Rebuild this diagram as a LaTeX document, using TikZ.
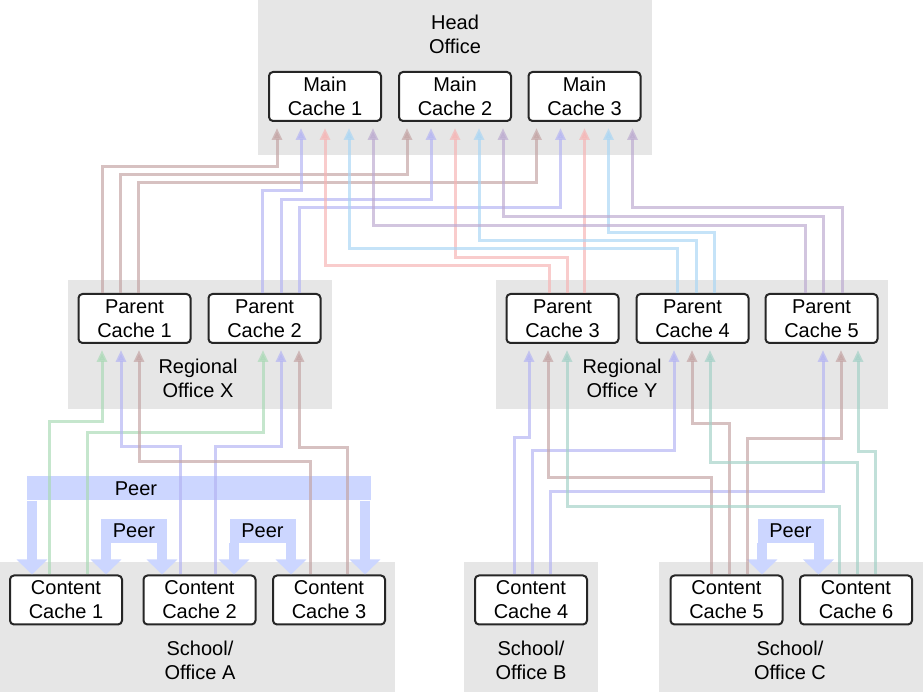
\documentclass[tikz,border=0pt]{standalone}
\usepackage{fontspec}
\setmainfont{Liberation Sans}
\usepackage{tikz}
\usetikzlibrary{backgrounds, fit}
\usetikzlibrary{positioning}
\usetikzlibrary{arrows.meta}
\definecolor{officegray}{RGB}{230,230,230}
\definecolor{peerblue}{RGB}{204,214,255}
\definecolor{linkbrown}{RGB}{196,164,164}
\definecolor{linkblue}{RGB}{180,180,243}
\definecolor{linkred}{RGB}{246,180,180}
\definecolor{linksky}{RGB}{170,214,244}
\definecolor{linkpurple}{RGB}{188,170,208}
\definecolor{linkgreen}{RGB}{170,218,182}
\definecolor{linkteal}{RGB}{163,209,199}

\begin{document}
\begin{tikzpicture}[
            x = 0.5pt, y = -0.5pt, % pixel grid
            > = {Triangle[length=6pt,width=5pt]}, % arrow head style
            shorten > = 3pt, % don't touch arrow head to node
            font = \fontsize{10}{12}\selectfont
            ]

        \tikzstyle{cache}=[
            draw = black!85,
            line width = 1pt,
            rounded corners = 2pt,
            fill = white,
            align = center,
            minimum width = 56pt,
            minimum height = 24.5pt,
            inner sep = 0pt
        ]
        \tikzstyle{office}=[fill = officegray, inner sep = 0pt]
        \tikzstyle{sitename}=[align = center]
        \tikzstyle{link}=[->, line width = 1.5pt, opacity = 0.68]
        \tikzstyle{peer}=[draw = peerblue, line width = 5pt, shorten > = 0pt,
            -{Triangle[length=7.5pt,width=15pt]}]
        \tikzstyle{peerbar}=[fill = peerblue, inner sep = 0pt, minimum height = 12pt]

        \useasboundingbox (0,0) rectangle (923,694);

        % offices
        \node[office, fit={(258,0) (652,155)}] (HO) {};
        \node[office, fit={(68,280) (332,409)}] (RX) {};
        \node[office, fit={(496,280) (888,409)}] (RY) {};
        \node[office, fit={(0,562) (395,692)}] (SA) {};
        \node[office, fit={(464,562) (598,692)}] (SB) {};
        \node[office, fit={(659,562) (923,692)}] (SC) {};

        \node[sitename] (HOtext) at (455,34) {Head\\Office};
        \node[sitename] (RXtext) at (198,378) {Regional\\Office X};
        \node[sitename] (RYtext) at (622,378) {Regional\\Office Y};
        \node[sitename] (SAtext) at (200,660) {School/\\Office A};
        \node[sitename] (SBtext) at (531,660) {School/\\Office B};
        \node[sitename] (SCtext) at (790,660) {School/\\Office C};

        % main level
        \node[cache] (M1) at (325,96.5) {Main\\Cache 1};
        \node[cache] (M2) at (455,96.5) {Main\\Cache 2};
        \node[cache] (M3) at (584.5,96.5) {Main\\Cache 3};

        % parent level
        \node[cache] (P1) at (134.5,318.5) {Parent\\Cache 1};
        \node[cache] (P2) at (264.5,318.5) {Parent\\Cache 2};
        \node[cache] (P3) at (562.5,318.5) {Parent\\Cache 3};
        \node[cache] (P4) at (692.5,318.5) {Parent\\Cache 4};
        \node[cache] (P5) at (821.5,318.5) {Parent\\Cache 5};

        % content level
        \node[cache] (C1) at (66,600) {Content\\Cache 1};
        \node[cache] (C2) at (199.5,600) {Content\\Cache 2};
        \node[cache] (C3) at (329,600) {Content\\Cache 3};
        \node[cache] (C4) at (531,600) {Content\\Cache 4};
        \node[cache] (C5) at (726.5,600) {Content\\Cache 5};
        \node[cache] (C6) at (856,600) {Content\\Cache 6};

        % peers
        \node[peerbar, minimum width=172pt] (peerAC) at (199,488.5) {};
        \node (peerACtext) at (136,488.5) {Peer};
        \draw[peer] (32,0 |- peerAC.south) -- (32,0 |- C1.north);
        \draw[peer] (365,0 |- peerAC.south) -- (365,0 |- C3.north);

        \node[peerbar, minimum width=33pt] (peerAB) at (134,531) {Peer};
        \draw[peer] (106,0 |- peerAB.south) -- (106,0 |- C1.north);
        \draw[peer] (162,0 |- peerAB.south) -- (162,0 |- C2.north);

        \node[peerbar, minimum width=33pt] (peerBC) at (262.5,531) {Peer};
        \draw[peer] (234,0 |- peerBC.south) -- (234,0 |- C2.north);
        \draw[peer] (291,0 |- peerBC.south) -- (291,0 |- C3.north);

        \node[peerbar, minimum width=33pt] (peerEF) at (790.5,531) {Peer};
        \draw[peer] (762,0 |- peerEF.south) -- (762,0 |- C5.north);
        \draw[peer] (818.5,0 |- peerEF.south) -- (818.5,0 |- C6.north);

        % parent to main
        \draw[link, linkbrown] (102,0 |- P1.north) |- (277,167) -- (277,0 |- M1.south);
        \draw[link, linkbrown] (120,0 |- P1.north) |- (407,175) -- (407,0 |- M2.south);
        \draw[link, linkbrown] (138,0 |- P1.north) |- (536.5,183) -- (536.5,0 |- M3.south);

        \draw[link, linkblue] (262,0 |- P2.north) |- (301,191) -- (301,0 |- M1.south);
        \draw[link, linkblue] (281,0 |- P2.north) |- (431,200) -- (431,0 |- M2.south);
        \draw[link, linkblue] (299,0 |- P2.north) |- (560.5,208) -- (560.5,0 |- M3.south);

        \draw[link, linkred] (549,0 |- P3.north) |- (325,266) -- (325,0 |- M1.south);
        \draw[link, linkred] (567,0 |- P3.north) |- (455,258) -- (455,0 |- M2.south);
        \draw[link, linkred] (584.5,0 |- P3.north) -- (584.5,0 |- M3.south);

        \draw[link, linksky] (677,0 |- P4.north) |- (349,249) -- (349,0 |- M1.south);
        \draw[link, linksky] (696,0 |- P4.north) |- (479,241) -- (479,0 |- M2.south);
        \draw[link, linksky] (714,0 |- P4.north) |- (608.5,233) -- (608.5,0 |- M3.south);

        \draw[link, linkpurple] (805,0 |- P5.north) |- (373,226) -- (373,0 |- M1.south);
        \draw[link, linkpurple] (823,0 |- P5.north) |- (503,217) -- (503,0 |- M2.south);
        \draw[link, linkpurple] (842,0 |- P5.north) |- (632.5,208) -- (632.5,0 |- M3.south);

        % content to parent
        \draw[link, linkgreen] (49,0 |- C1.north) |- (102,422) -- (102,0 |- P1.south);
        \draw[link, linkgreen] (87,0 |- C1.north) |- (263,433) -- (263,0 |- P2.south);

        \draw[link, linkblue] (180,0 |- C2.north) |- (121,447) -- (121,0 |- P1.south);
        \draw[link, linkblue] (215,0 |- C2.north) |- (281,447) -- (281,0 |- P2.south);

        \draw[link, linkbrown] (310,0 |- C3.north) |- (139,462) -- (139,0 |- P1.south);
        \draw[link, linkbrown] (347,0 |- C3.north) |- (299,448) -- (299,0 |- P2.south);

        \draw[link, linkblue] (514,0 |- C4.north) |- (529,438) -- (529,0 |- P3.south);
        \draw[link, linkblue] (532,0 |- C4.north) |- (674,451) -- (674,0 |- P4.south);
        \draw[link, linkblue] (550,0 |- C4.north) |- (823,492) -- (823,0 |- P5.south);

        \draw[link, linkbrown] (711,0 |- C5.north) |- (548,478) -- (548,0 |- P3.south);
        \draw[link, linkbrown] (729,0 |- C5.north) |- (692,424) -- (692,0 |- P4.south);
        \draw[link, linkbrown] (747,0 |- C5.north) |- (841,439) -- (841,0 |- P5.south);

        \draw[link, linkteal] (839,0 |- C6.north) |- (567,507) -- (567,0 |- P3.south);
        \draw[link, linkteal] (857,0 |- C6.north) |- (710,463) -- (710,0 |- P4.south);
        \draw[link, linkteal] (875,0 |- C6.north) |- (858,452) -- (858,0 |- P5.south);

  \end{tikzpicture}
\end{document}
